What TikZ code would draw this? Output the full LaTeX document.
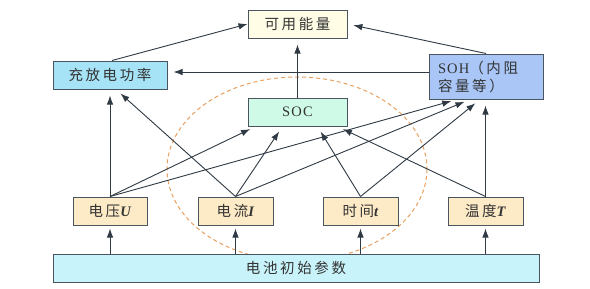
\documentclass[tikz,border=0pt]{standalone}
\usepackage{fontspec}
\setmainfont{Liberation Serif}
\newfontfamily\cjk[LetterSpace=18]{Noto Sans CJK SC}
\usetikzlibrary{arrows.meta,calc}
\definecolor{cE}{HTML}{FFFDE6}
\definecolor{cP}{HTML}{A6E3F7}
\definecolor{cSOC}{HTML}{CFFAE8}
\definecolor{cSOH}{HTML}{A9C6F7}
\definecolor{cIn}{HTML}{FDEAC6}
\definecolor{cB}{HTML}{C9F3FA}
\definecolor{cBorder}{HTML}{4A5560}
\definecolor{cLine}{HTML}{2F3A44}
\definecolor{cDash}{HTML}{E8A060}
\definecolor{cText}{HTML}{333333}
\begin{document}
\begin{tikzpicture}[x=1pt,y=-1pt,
  box/.style={draw=cBorder,line width=1pt,minimum height=28pt,inner sep=2pt,
    text=cText,font=\fontsize{14.5}{17}\selectfont},
  arr/.style={draw=cLine,line width=0.9pt,-{Latex[length=9pt,width=6.5pt]},shorten >=6pt},
  arrs/.style={arr,shorten >=3pt},
  plain/.style={draw=cLine,line width=0.9pt}]
\useasboundingbox (0,0) rectangle (590,289);
\fill[white] (0,0) rectangle (590,289);
% dashed ellipse
\draw[cDash,line width=1pt,dash pattern=on 4pt off 3pt] (297,169) ellipse [x radius=130, y radius=92];
% nodes
\node[box,fill=cE,minimum width=99pt] (E) at (297.5,24) {\cjk 可用能量};
\node[box,fill=cP,minimum width=114pt] (P) at (110,75) {\cjk 充放电功率};
\node[box,fill=cSOC,minimum width=99pt] (SOC) at (297.5,112) {\addfontfeature{LetterSpace=8}SOC};
\node[box,fill=cSOH,minimum width=114pt,minimum height=45pt,align=left,text width=96pt,font=\fontsize{14.5}{18}\selectfont] (SOH) at (486,76.5) {{\addfontfeature{LetterSpace=8}SOH}{\cjk （内阻}\\{\cjk 容量等）}};
\node[box,fill=cIn,minimum width=74pt] (U) at (110,211) {{\cjk 电压}\textit{\textbf{U}}};
\node[box,fill=cIn,minimum width=75pt] (I) at (235.5,211) {{\cjk 电流}\textit{\textbf{I}}};
\node[box,fill=cIn,minimum width=75pt] (t) at (360.5,211) {{\cjk 时间}\textit{\textbf{t}}};
\node[box,fill=cIn,minimum width=75pt] (T) at (485.5,211) {{\cjk 温度}\textit{\textbf{T}}};
\node[box,fill=cB,minimum width=486pt] (B) at (296,268) {\cjk 电池初始参数};
% bottom arrows
\draw[arrs] (B.north -| U.north) -- (U.south);
\draw[arrs] (B.north -| I.north) -- (I.south);
\draw[arrs] (B.north -| t.north) -- (t.south);
\draw[arrs] (B.north -| T.north) -- (T.south);
% from U
\draw[arr] (U.north) -- (P.south);
\draw[arr] (U.north) -- ($(SOC.south)+(-42,0)$);
\draw[arr] (U.north) -- ($(SOH.south)+(-29,0)$);
% from I
\draw[arr] (I.north) -- ($(P.south)+(6,0)$);
\draw[arr] (I.north) -- ($(SOC.south)+(-15,0)$);
\draw[arr] (I.north) -- ($(SOH.south)+(-16,0)$);
% from t
\draw[arr] (t.north) -- ($(SOC.south)+(20,0)$);
\draw[arr] (t.north) -- ($(SOH.south)+(-6,0)$);
% from T
\draw[arr] (T.north) -- ($(SOC.south)+(40,0)$);
\draw[arr] (T.north) -- (SOH.south -| T.north);
% upper
\draw[arr] ($(SOH.west)+(0,-4.5)$) -- ($(P.east)+(0,-3)$);
\draw[arr] (SOC.north) -- (E.south);
\draw[arrs,shorten >=0pt] ($(P.north)+(2,0)$) -- (E.west);
\draw[arr] (SOH.north) -- (E.east);
\end{tikzpicture}
\end{document}
